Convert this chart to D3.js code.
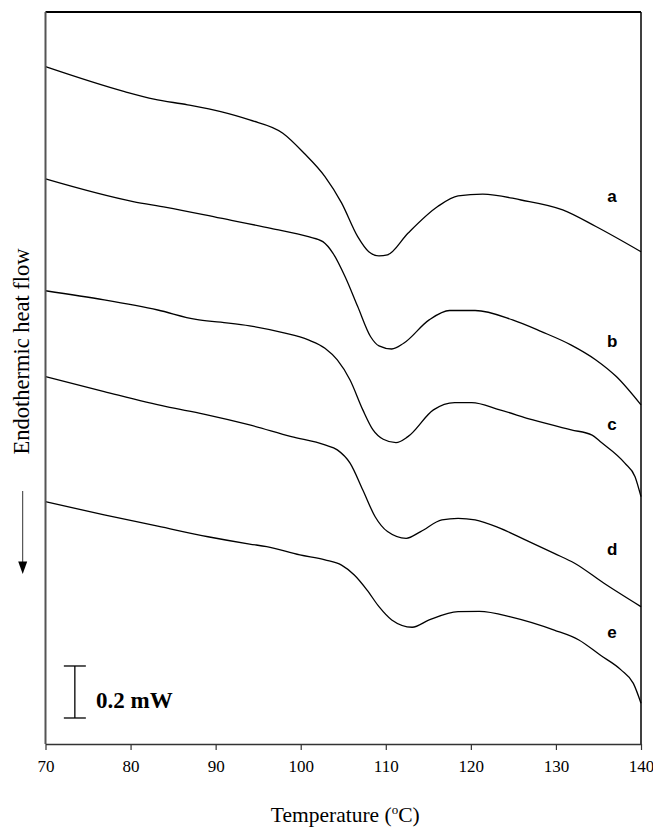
<!DOCTYPE html>
<html>
<head>
<meta charset="utf-8">
<script src="https://cdn.jsdelivr.net/npm/d3@7/dist/d3.min.js"></script>
<style>
body { margin: 0; background: #fff; }
svg { display: block; background: #fff; }
</style>
</head>
<body>
<svg></svg>
<script>
// ### Data: temperature (C) and heat flow (mW, shifted per curve) ###
var tempA = [70.0, 79.3, 82.75, 86.7, 90.6, 94.0, 97.9, 100.4, 102.85, 104.8, 106.7, 108.0, 109.2, 110.2, 112.6, 116.1, 118.5, 121.4, 125.9, 130.8, 134.7, 140.0]
var flowA = [2.605, 2.509, 2.480, 2.458, 2.432, 2.400, 2.349, 2.272, 2.182, 2.081, 1.951, 1.893, 1.877, 1.881, 1.964, 2.067, 2.108, 2.115, 2.092, 2.054, 1.990, 1.893]

var tempB = [70.0, 80.3, 84.2, 90.6, 96.5, 100.9, 102.6, 103.8, 105.3, 106.7, 108.2, 109.2, 110.7, 112.1, 115.1, 117.5, 120.5, 124.9, 128.3, 131.75, 134.7, 137.1, 140.0]
var flowB = [2.173, 2.086, 2.064, 2.022, 1.983, 1.951, 1.932, 1.887, 1.791, 1.682, 1.567, 1.531, 1.519, 1.541, 1.631, 1.667, 1.667, 1.631, 1.586, 1.535, 1.477, 1.413, 1.304]

var tempC = [70.0, 76.9, 83.2, 87.7, 90.6, 94.0, 97.9, 100.9, 102.85, 104.3, 105.8, 107.3, 108.5, 109.7, 111.2, 112.6, 115.6, 118.1, 120.1, 123.4, 127.3, 131.8, 134.25, 135.2, 138.1, 139.3, 140.0]
var flowC = [1.743, 1.708, 1.669, 1.633, 1.622, 1.608, 1.582, 1.554, 1.522, 1.477, 1.400, 1.285, 1.208, 1.172, 1.159, 1.182, 1.285, 1.313, 1.313, 1.285, 1.246, 1.208, 1.188, 1.163, 1.080, 1.028, 0.951]

var tempD = [70.0, 76.9, 84.2, 88.6, 94.0, 98.9, 102.85, 104.3, 105.8, 107.3, 108.75, 110.2, 112.4, 114.1, 116.6, 118.5, 120.5, 123.4, 126.4, 129.8, 132.2, 135.65, 140.0]
var flowD = [1.413, 1.355, 1.297, 1.269, 1.227, 1.182, 1.150, 1.131, 1.080, 0.977, 0.874, 0.817, 0.791, 0.817, 0.862, 0.868, 0.862, 0.830, 0.785, 0.733, 0.695, 0.618, 0.528]

var tempE = [70.0, 76.9, 83.2, 89.1, 94.0, 96.0, 99.9, 102.85, 104.8, 106.3, 107.8, 109.2, 110.7, 113.1, 115.1, 118.5, 121.0, 124.9, 129.8, 132.7, 135.2, 137.65, 139.1, 140.0]
var flowE = [0.932, 0.881, 0.838, 0.797, 0.769, 0.759, 0.727, 0.708, 0.688, 0.650, 0.592, 0.528, 0.477, 0.449, 0.477, 0.509, 0.510, 0.487, 0.438, 0.400, 0.342, 0.285, 0.233, 0.157]

var curveNames = ['a', 'b', 'c', 'd', 'e']
var labelTemp = 136.6
var labelFlow = [2.085, 1.527, 1.206, 0.727, 0.408]
var xTicks = [70, 80, 90, 100, 110, 120, 130, 140]
var scaleBar = [0.1, 0.3]   // 0.2 mW bar
var scaleBarTemp = 73.45

// ### Setting up canvas ###
var W = 653, H = 829
var margin = {top: 12, right: 12, bottom: 85, left: 45.5}
var svg = d3.select('svg')
	.attr('width', W)
	.attr('height', H)

var serif = 'Liberation Serif, Times New Roman, serif'
var sans = 'Liberation Sans, Arial, sans-serif'

// ### Scales ###
var xScale = d3.scaleLinear()
	.domain([70, 140])
	.range([margin.left, W - margin.right])
var yScale = d3.scaleLinear()
	.domain([0, 2.815])
	.range([H - margin.bottom, margin.top])

var series = [
	d3.zip(tempA, flowA),
	d3.zip(tempB, flowB),
	d3.zip(tempC, flowC),
	d3.zip(tempD, flowD),
	d3.zip(tempE, flowE)
]

var line = d3.line()
	.x(d => xScale(d[0]))
	.y(d => yScale(d[1]))
	.curve(d3.curveMonotoneX)

// ### Curves ###
svg.selectAll('path.dsc')
	.data(series)
	.enter()
	.append('path')
	.attr('class', 'dsc')
	.attr('d', line)
	.attr('fill', 'none')
	.attr('stroke', '#000')
	.attr('stroke-width', 1.3)

// curve letters
svg.selectAll('text.lab')
	.data(curveNames)
	.enter()
	.append('text')
	.attr('class', 'lab')
	.attr('x', xScale(labelTemp))
	.attr('y', (d, i) => yScale(labelFlow[i]))
	.attr('text-anchor', 'middle')
	.style('font-family', sans)
	.style('font-weight', 'bold')
	.style('font-size', '17px')
	.text(d => d)

// ### Frame ###
var x0 = xScale(70), x1 = xScale(140), y0 = yScale(0), y1 = yScale(2.815)
svg.append('line').attr('x1', x0).attr('x2', x1).attr('y1', y1).attr('y2', y1)
	.attr('stroke', '#000').attr('stroke-width', 2)
svg.append('line').attr('x1', x1).attr('x2', x1).attr('y1', y1).attr('y2', y0)
	.attr('stroke', '#000').attr('stroke-width', 1.5)
svg.append('line').attr('x1', x0).attr('x2', x0).attr('y1', y1).attr('y2', y0)
	.attr('stroke', '#555').attr('stroke-width', 2)

// ### Axis ###
var xAxis = d3.axisBottom(xScale)
	.tickValues(xTicks)
	.tickFormat(d3.format('d'))
	.tickSize(6)
	.tickSizeOuter(0)
	.tickPadding(10)

var gx = svg.append('g')
	.attr('transform', `translate(0, ${y0})`)
	.call(xAxis)
gx.select('.domain').attr('stroke', '#333').attr('stroke-width', 1.5)
gx.selectAll('.tick line').attr('stroke', '#333').attr('stroke-width', 1.2)
gx.selectAll('.tick text')
	.style('font-family', serif)
	.style('font-size', '17px')
	.attr('fill', '#000')

// axis titles
var xt = svg.append('text')
	.attr('x', (x0 + x1) / 2 + 2)
	.attr('y', 822)
	.attr('text-anchor', 'middle')
	.style('font-family', serif)
	.style('font-size', '21.5px')
xt.append('tspan').text('Temperature (')
xt.append('tspan').attr('dy', -8).style('font-size', '13px').text('o')
xt.append('tspan').attr('dy', 8).text('C)')

svg.append('text')
	.attr('transform', 'translate(28.5, 351.5) rotate(-90)')
	.attr('text-anchor', 'middle')
	.style('font-family', serif)
	.style('font-size', '22.5px')
	.text('Endothermic heat flow')

// arrow
svg.append('line')
	.attr('x1', 22.7).attr('x2', 22.7)
	.attr('y1', 491).attr('y2', 563)
	.attr('stroke', '#333').attr('stroke-width', 1)
svg.append('path')
	.attr('d', 'M18.2,561.5 L27.2,561.5 L22.7,574 Z')
	.attr('fill', '#000')

// ### Scale bar ###
var sbx = xScale(scaleBarTemp)
svg.append('line')
	.attr('x1', sbx).attr('x2', sbx)
	.attr('y1', yScale(scaleBar[0])).attr('y2', yScale(scaleBar[1]))
	.attr('stroke', '#000').attr('stroke-width', 1.3)
scaleBar.forEach(function(v) {
	svg.append('line')
		.attr('x1', sbx - 11).attr('x2', sbx + 11)
		.attr('y1', yScale(v)).attr('y2', yScale(v))
		.attr('stroke', '#000').attr('stroke-width', 1.3)
})
svg.append('text')
	.attr('x', 96)
	.attr('y', 708)
	.style('font-family', serif)
	.style('font-weight', 'bold')
	.style('font-size', '23px')
	.text('0.2 mW')
</script>
</body>
</html>
